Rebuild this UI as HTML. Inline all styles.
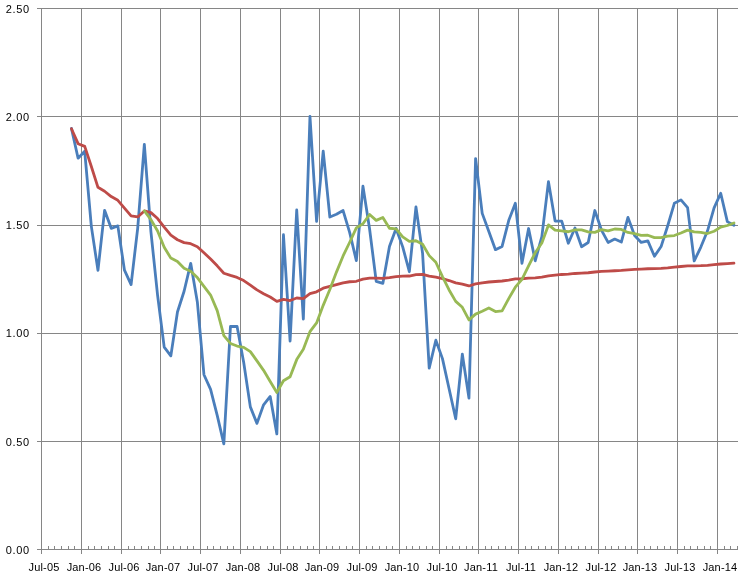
<!DOCTYPE html>
<html><head><meta charset="utf-8"><style>
html,body{margin:0;padding:0;background:#fff;}
svg{display:block;}
.t{will-change:transform;}
text{font-family:"Liberation Sans",sans-serif;font-size:11px;fill:#000;}
</style></head><body>
<svg width="745" height="580" viewBox="0 0 745 580">
<rect width="745" height="580" fill="#fff"/>
<g stroke="#868686" stroke-width="1" shape-rendering="crispEdges">
<line x1="37" y1="8.5" x2="737.6" y2="8.5"/>
<line x1="37" y1="116.5" x2="737.6" y2="116.5"/>
<line x1="37" y1="225.5" x2="737.6" y2="225.5"/>
<line x1="37" y1="333.5" x2="737.6" y2="333.5"/>
<line x1="37" y1="441.5" x2="737.6" y2="441.5"/>
<line x1="81.5" y1="8" x2="81.5" y2="554"/>
<line x1="121.5" y1="8" x2="121.5" y2="554"/>
<line x1="160.5" y1="8" x2="160.5" y2="554"/>
<line x1="200.5" y1="8" x2="200.5" y2="554"/>
<line x1="240.5" y1="8" x2="240.5" y2="554"/>
<line x1="280.5" y1="8" x2="280.5" y2="554"/>
<line x1="319.5" y1="8" x2="319.5" y2="554"/>
<line x1="359.5" y1="8" x2="359.5" y2="554"/>
<line x1="399.5" y1="8" x2="399.5" y2="554"/>
<line x1="439.5" y1="8" x2="439.5" y2="554"/>
<line x1="478.5" y1="8" x2="478.5" y2="554"/>
<line x1="518.5" y1="8" x2="518.5" y2="554"/>
<line x1="558.5" y1="8" x2="558.5" y2="554"/>
<line x1="598.5" y1="8" x2="598.5" y2="554"/>
<line x1="637.5" y1="8" x2="637.5" y2="554"/>
<line x1="677.5" y1="8" x2="677.5" y2="554"/>
<line x1="717.5" y1="8" x2="717.5" y2="554"/>
<line x1="41.5" y1="8" x2="41.5" y2="554"/>
<line x1="37" y1="549.5" x2="737.6" y2="549.5"/>
<line x1="48.5" y1="546" x2="48.5" y2="549"/>
<line x1="54.5" y1="546" x2="54.5" y2="549"/>
<line x1="61.5" y1="546" x2="61.5" y2="549"/>
<line x1="68.5" y1="546" x2="68.5" y2="549"/>
<line x1="74.5" y1="546" x2="74.5" y2="549"/>
<line x1="88.5" y1="546" x2="88.5" y2="549"/>
<line x1="94.5" y1="546" x2="94.5" y2="549"/>
<line x1="101.5" y1="546" x2="101.5" y2="549"/>
<line x1="108.5" y1="546" x2="108.5" y2="549"/>
<line x1="114.5" y1="546" x2="114.5" y2="549"/>
<line x1="128.5" y1="546" x2="128.5" y2="549"/>
<line x1="134.5" y1="546" x2="134.5" y2="549"/>
<line x1="141.5" y1="546" x2="141.5" y2="549"/>
<line x1="148.5" y1="546" x2="148.5" y2="549"/>
<line x1="154.5" y1="546" x2="154.5" y2="549"/>
<line x1="167.5" y1="546" x2="167.5" y2="549"/>
<line x1="173.5" y1="546" x2="173.5" y2="549"/>
<line x1="180.5" y1="546" x2="180.5" y2="549"/>
<line x1="187.5" y1="546" x2="187.5" y2="549"/>
<line x1="193.5" y1="546" x2="193.5" y2="549"/>
<line x1="207.5" y1="546" x2="207.5" y2="549"/>
<line x1="213.5" y1="546" x2="213.5" y2="549"/>
<line x1="220.5" y1="546" x2="220.5" y2="549"/>
<line x1="227.5" y1="546" x2="227.5" y2="549"/>
<line x1="233.5" y1="546" x2="233.5" y2="549"/>
<line x1="247.5" y1="546" x2="247.5" y2="549"/>
<line x1="253.5" y1="546" x2="253.5" y2="549"/>
<line x1="260.5" y1="546" x2="260.5" y2="549"/>
<line x1="267.5" y1="546" x2="267.5" y2="549"/>
<line x1="273.5" y1="546" x2="273.5" y2="549"/>
<line x1="287.5" y1="546" x2="287.5" y2="549"/>
<line x1="293.5" y1="546" x2="293.5" y2="549"/>
<line x1="300.5" y1="546" x2="300.5" y2="549"/>
<line x1="307.5" y1="546" x2="307.5" y2="549"/>
<line x1="313.5" y1="546" x2="313.5" y2="549"/>
<line x1="326.5" y1="546" x2="326.5" y2="549"/>
<line x1="332.5" y1="546" x2="332.5" y2="549"/>
<line x1="339.5" y1="546" x2="339.5" y2="549"/>
<line x1="346.5" y1="546" x2="346.5" y2="549"/>
<line x1="352.5" y1="546" x2="352.5" y2="549"/>
<line x1="366.5" y1="546" x2="366.5" y2="549"/>
<line x1="372.5" y1="546" x2="372.5" y2="549"/>
<line x1="379.5" y1="546" x2="379.5" y2="549"/>
<line x1="386.5" y1="546" x2="386.5" y2="549"/>
<line x1="392.5" y1="546" x2="392.5" y2="549"/>
<line x1="406.5" y1="546" x2="406.5" y2="549"/>
<line x1="412.5" y1="546" x2="412.5" y2="549"/>
<line x1="419.5" y1="546" x2="419.5" y2="549"/>
<line x1="426.5" y1="546" x2="426.5" y2="549"/>
<line x1="432.5" y1="546" x2="432.5" y2="549"/>
<line x1="446.5" y1="546" x2="446.5" y2="549"/>
<line x1="452.5" y1="546" x2="452.5" y2="549"/>
<line x1="459.5" y1="546" x2="459.5" y2="549"/>
<line x1="466.5" y1="546" x2="466.5" y2="549"/>
<line x1="472.5" y1="546" x2="472.5" y2="549"/>
<line x1="485.5" y1="546" x2="485.5" y2="549"/>
<line x1="491.5" y1="546" x2="491.5" y2="549"/>
<line x1="498.5" y1="546" x2="498.5" y2="549"/>
<line x1="505.5" y1="546" x2="505.5" y2="549"/>
<line x1="511.5" y1="546" x2="511.5" y2="549"/>
<line x1="525.5" y1="546" x2="525.5" y2="549"/>
<line x1="531.5" y1="546" x2="531.5" y2="549"/>
<line x1="538.5" y1="546" x2="538.5" y2="549"/>
<line x1="545.5" y1="546" x2="545.5" y2="549"/>
<line x1="551.5" y1="546" x2="551.5" y2="549"/>
<line x1="565.5" y1="546" x2="565.5" y2="549"/>
<line x1="571.5" y1="546" x2="571.5" y2="549"/>
<line x1="578.5" y1="546" x2="578.5" y2="549"/>
<line x1="585.5" y1="546" x2="585.5" y2="549"/>
<line x1="591.5" y1="546" x2="591.5" y2="549"/>
<line x1="605.5" y1="546" x2="605.5" y2="549"/>
<line x1="611.5" y1="546" x2="611.5" y2="549"/>
<line x1="618.5" y1="546" x2="618.5" y2="549"/>
<line x1="625.5" y1="546" x2="625.5" y2="549"/>
<line x1="631.5" y1="546" x2="631.5" y2="549"/>
<line x1="644.5" y1="546" x2="644.5" y2="549"/>
<line x1="650.5" y1="546" x2="650.5" y2="549"/>
<line x1="657.5" y1="546" x2="657.5" y2="549"/>
<line x1="664.5" y1="546" x2="664.5" y2="549"/>
<line x1="670.5" y1="546" x2="670.5" y2="549"/>
<line x1="684.5" y1="546" x2="684.5" y2="549"/>
<line x1="690.5" y1="546" x2="690.5" y2="549"/>
<line x1="697.5" y1="546" x2="697.5" y2="549"/>
<line x1="704.5" y1="546" x2="704.5" y2="549"/>
<line x1="710.5" y1="546" x2="710.5" y2="549"/>
<line x1="724.5" y1="546" x2="724.5" y2="549"/>
<line x1="730.5" y1="546" x2="730.5" y2="549"/>
<line x1="737.5" y1="546" x2="737.5" y2="549"/>
</g>
<g fill="none" stroke-width="2.8" stroke-linejoin="round" stroke-linecap="round">
<polyline stroke="#4A7EBB" points="71.46,128.39 78.09,158.19 84.71,151.33 91.34,226.36 97.96,270.39 104.59,210.32 111.21,228.33 117.84,225.89 124.46,270.21 131.09,284.54 137.71,228.06 144.34,144.46 150.96,232.07 157.59,295.29 164.21,347.09 170.84,355.88 177.46,312.02 184.09,291.28 190.71,263.31 197.34,301.99 203.96,374.73 210.59,389.42 217.21,415.35 223.84,443.82 230.46,326.51 237.09,326.51 243.71,362.58 250.34,406.88 256.96,423.38 263.59,404.78 270.21,396.48 276.84,433.92 283.46,234.77 290.09,341.04 296.71,210.00 303.34,319.05 309.96,116.43 316.59,221.47 323.21,151.20 329.84,216.99 336.46,214.31 343.09,210.54 349.71,232.56 356.34,260.70 362.96,186.18 369.59,229.01 376.21,281.35 382.84,283.43 389.46,246.52 396.09,228.42 402.71,246.87 409.34,271.71 415.96,206.89 422.59,253.38 429.21,368.18 435.84,340.22 442.46,358.61 449.09,388.79 455.71,418.82 462.34,354.17 468.96,398.15 475.59,158.53 482.21,213.36 488.84,231.52 495.46,249.65 502.09,246.44 508.71,220.54 515.34,203.25 521.96,263.29 528.59,228.52 535.21,260.78 541.84,236.60 548.46,181.69 555.09,221.09 561.71,221.10 568.34,243.23 574.96,228.01 581.59,246.73 588.21,242.55 594.84,210.53 601.46,230.07 608.09,242.46 614.71,239.07 621.34,242.10 627.96,217.37 634.59,235.58 641.21,242.44 647.84,240.84 654.46,256.25 661.09,246.56 667.71,225.74 674.34,203.36 680.96,199.88 687.59,207.67 694.21,260.96 700.84,247.06 707.46,231.05 714.09,207.92 720.71,193.23 727.34,221.62 733.96,225.32"/>
<polyline stroke="#BE4B48" points="71.46,128.79 78.09,143.69 84.71,146.37 91.34,166.47 97.96,187.33 104.59,191.23 111.21,196.59 117.84,200.30 124.46,208.11 131.09,215.79 137.71,216.95 144.34,210.94 150.96,212.59 157.59,218.53 164.21,227.13 170.84,235.20 177.46,239.74 184.09,242.63 190.71,243.74 197.34,246.67 203.96,252.79 210.59,259.02 217.21,265.83 223.84,273.26 230.46,275.41 237.09,277.39 243.71,280.56 250.34,285.09 256.96,289.87 263.59,293.71 270.21,297.04 276.84,301.33 283.46,299.33 290.09,300.56 296.71,297.99 303.34,298.58 309.96,293.67 316.59,291.78 323.21,288.19 329.84,286.42 336.46,284.67 343.09,282.91 349.71,281.75 356.34,281.28 362.96,279.18 369.59,278.10 376.21,278.17 382.84,278.29 389.46,277.65 396.09,276.67 402.71,276.10 409.34,276.02 415.96,274.72 422.59,274.34 429.21,276.05 435.84,277.20 442.46,278.64 449.09,280.54 455.71,282.90 462.34,284.09 468.96,285.97 475.59,283.92 482.21,282.80 488.84,282.01 495.46,281.52 502.09,280.99 508.71,280.10 515.34,278.97 521.96,278.75 528.59,278.04 535.21,277.80 541.84,277.23 548.46,275.93 555.09,275.19 561.71,274.48 568.34,274.07 574.96,273.48 581.59,273.14 588.21,272.76 594.84,271.99 601.46,271.47 608.09,271.13 614.71,270.74 621.34,270.41 627.96,269.79 634.59,269.40 641.21,269.09 647.84,268.77 654.46,268.64 661.09,268.40 667.71,267.93 674.34,267.23 680.96,266.51 687.59,265.89 694.21,265.85 700.84,265.65 707.46,265.30 714.09,264.72 720.71,264.00 727.34,263.58 733.96,263.21"/>
<polyline stroke="#98B954" points="144.34,210.94 150.96,219.58 157.59,231.00 164.21,247.32 170.84,258.11 177.46,261.58 184.09,268.33 190.71,271.24 197.34,277.58 203.96,286.29 210.59,295.03 217.21,310.64 223.84,335.59 230.46,343.46 237.09,346.06 243.71,347.35 250.34,351.60 256.96,360.88 263.59,370.34 270.21,381.44 276.84,392.43 283.46,380.77 290.09,376.73 296.71,359.62 303.34,349.23 309.96,331.72 316.59,322.97 323.21,305.35 329.84,289.53 336.46,272.10 343.09,255.92 349.71,242.26 356.34,227.82 362.96,223.77 369.59,214.44 376.21,220.38 382.84,217.41 389.46,228.25 396.09,228.83 402.71,236.81 409.34,241.37 415.96,240.75 422.59,244.32 429.21,255.62 435.84,262.25 442.46,276.62 449.09,289.93 455.71,301.39 462.34,307.28 468.96,319.92 475.59,314.09 482.21,311.30 488.84,307.95 495.46,311.52 502.09,310.94 508.71,298.63 515.34,287.22 521.96,279.28 528.59,265.92 535.21,252.75 541.84,242.95 548.46,224.91 555.09,230.13 561.71,230.77 568.34,231.75 574.96,229.95 581.59,229.97 588.21,231.80 594.84,232.41 601.46,229.64 608.09,230.80 614.71,228.99 621.34,229.45 627.96,232.43 634.59,233.63 641.21,235.41 647.84,235.21 654.46,237.57 661.09,237.55 667.71,236.15 674.34,235.55 680.96,233.04 687.59,230.14 694.21,231.96 700.84,232.38 707.46,233.52 714.09,231.21 720.71,227.11 727.34,225.51 733.96,222.93"/>
</g>
<g class="t">
<text x="29.8" y="13" text-anchor="end" letter-spacing="0.65">2.50</text>
<text x="29.8" y="121" text-anchor="end" letter-spacing="0.65">2.00</text>
<text x="29.8" y="229" text-anchor="end" letter-spacing="0.65">1.50</text>
<text x="29.8" y="337" text-anchor="end" letter-spacing="0.65">1.00</text>
<text x="29.8" y="446" text-anchor="end" letter-spacing="0.65">0.50</text>
<text x="29.8" y="554" text-anchor="end" letter-spacing="0.65">0.00</text>
<text x="44.0" y="571" text-anchor="middle" letter-spacing="0.18">Jul-05</text>
<text x="84.0" y="571" text-anchor="middle" letter-spacing="0.18">Jan-06</text>
<text x="124.0" y="571" text-anchor="middle" letter-spacing="0.18">Jul-06</text>
<text x="163.0" y="571" text-anchor="middle" letter-spacing="0.18">Jan-07</text>
<text x="203.0" y="571" text-anchor="middle" letter-spacing="0.18">Jul-07</text>
<text x="243.0" y="571" text-anchor="middle" letter-spacing="0.18">Jan-08</text>
<text x="283.0" y="571" text-anchor="middle" letter-spacing="0.18">Jul-08</text>
<text x="322.0" y="571" text-anchor="middle" letter-spacing="0.18">Jan-09</text>
<text x="362.0" y="571" text-anchor="middle" letter-spacing="0.18">Jul-09</text>
<text x="402.0" y="571" text-anchor="middle" letter-spacing="0.18">Jan-10</text>
<text x="442.0" y="571" text-anchor="middle" letter-spacing="0.18">Jul-10</text>
<text x="481.0" y="571" text-anchor="middle" letter-spacing="0.18">Jan-11</text>
<text x="521.0" y="571" text-anchor="middle" letter-spacing="0.18">Jul-11</text>
<text x="561.0" y="571" text-anchor="middle" letter-spacing="0.18">Jan-12</text>
<text x="601.0" y="571" text-anchor="middle" letter-spacing="0.18">Jul-12</text>
<text x="640.0" y="571" text-anchor="middle" letter-spacing="0.18">Jan-13</text>
<text x="680.0" y="571" text-anchor="middle" letter-spacing="0.18">Jul-13</text>
<text x="720.0" y="571" text-anchor="middle" letter-spacing="0.18">Jan-14</text>
</g>
</svg>
</body></html>
